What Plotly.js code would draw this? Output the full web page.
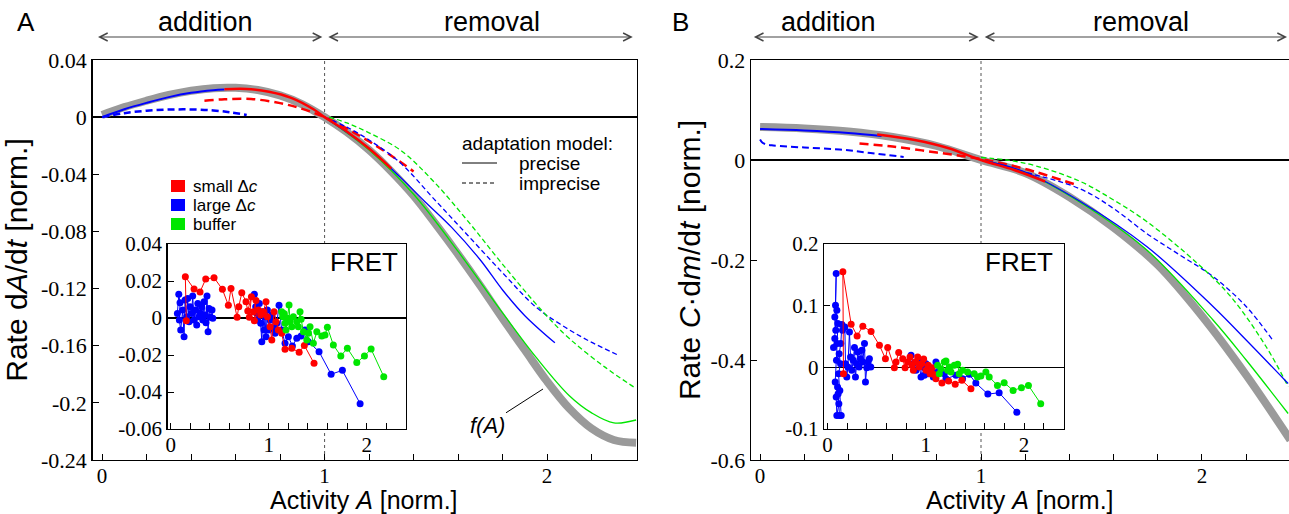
<!DOCTYPE html>
<html><head><meta charset="utf-8">
<script src="https://cdn.plot.ly/plotly-3.0.1.min.js"></script>
<style>html,body{margin:0;padding:0;background:#fff}#chart{width:1289px;height:514px}</style>
</head><body><div id="chart"></div>
<script>
// ================= DATA =================
// ---- Panel A (dA/dt vs activity A) ----
const aGrayX = [0, 0.1, 0.2, 0.3, 0.4, 0.5, 0.6, 0.7, 0.8, 0.9, 1.0, 1.1, 1.2, 1.3, 1.4, 1.5, 1.6, 1.7, 1.8, 1.9, 2.0, 2.1, 2.2, 2.3, 2.4];
const aGrayY = [0.0015, 0.007, 0.0115, 0.0155, 0.0185, 0.0203, 0.0205, 0.019, 0.0152, 0.009, 0.0, -0.0105, -0.023, -0.038, -0.055, -0.075, -0.096, -0.118, -0.141, -0.163, -0.185, -0.204, -0.218, -0.226, -0.228];
const aBlueSolid1X = [0, 0.1, 0.2, 0.3, 0.4, 0.5, 0.55];
const aBlueSolid1Y = [0.0, 0.0055, 0.010, 0.014, 0.017, 0.0188, 0.0193];
const aBlueSolid2X = [1.0, 1.2, 1.34, 1.45, 1.57, 1.7, 1.8, 1.9, 2.035];
const aBlueSolid2Y = [0, -0.022, -0.042, -0.059, -0.077, -0.100, -0.121, -0.139, -0.158];
const aRedSolidX = [0.55, 0.65, 0.75, 0.85, 0.95, 1.0, 1.1, 1.2, 1.3];
const aRedSolidY = [0.0195, 0.0197, 0.0178, 0.0135, 0.0055, 0.0, -0.010, -0.022, -0.036];
const aRedDashX = [0.46, 0.55, 0.67, 0.8, 0.9, 1.0, 1.1, 1.2, 1.3, 1.4];
const aRedDashY = [0.0115, 0.0125, 0.0127, 0.0098, 0.0058, 0.0, -0.008, -0.017, -0.027, -0.038];
const aBlueDash1X = [0, 0.1, 0.2, 0.3, 0.4, 0.5, 0.58, 0.65];
const aBlueDash1Y = [0.0, 0.0028, 0.0045, 0.0053, 0.0054, 0.0047, 0.0033, 0.0015];
const aBlueDash2X = [1.0, 1.1, 1.2, 1.34, 1.49, 1.645, 1.8, 1.95, 2.06, 2.18, 2.325];
const aBlueDash2Y = [0, -0.007, -0.016, -0.032, -0.057, -0.083, -0.109, -0.133, -0.145, -0.156, -0.167];
const aGreenSolidX = [1.0, 1.2, 1.4, 1.6, 1.8, 1.95, 2.1, 2.2, 2.3, 2.4];
const aGreenSolidY = [0, -0.023, -0.054, -0.094, -0.137, -0.168, -0.195, -0.207, -0.214, -0.212];
const aGreenDashX = [1.02, 1.1, 1.2, 1.34, 1.49, 1.645, 1.8, 1.98, 2.1, 2.26, 2.4];
const aGreenDashY = [0, -0.004, -0.011, -0.023, -0.045, -0.073, -0.103, -0.136, -0.155, -0.175, -0.19];

// ---- Panel B (C*dm/dt vs activity A) ----
const bGrayX = [0, 0.2, 0.4, 0.6, 0.8, 1.0, 1.2, 1.4, 1.6, 1.8, 2.0, 2.2, 2.4];
const bGrayY = [0.066, 0.063, 0.057, 0.046, 0.028, 0.0, -0.026, -0.074, -0.135, -0.210, -0.312, -0.43, -0.56];
const bBlueSolid1X = [0, 0.2, 0.4, 0.55];
const bBlueSolid1Y = [0.062, 0.059, 0.054, 0.048];
const bBlueSolid2X = [1.0, 1.2, 1.45, 1.75, 2.05, 2.2, 2.39];
const bBlueSolid2Y = [0, -0.024, -0.083, -0.173, -0.293, -0.36, -0.447];
const bRedSolidX = [0.53, 0.7, 0.85, 1.0, 1.15, 1.29];
const bRedSolidY = [0.051, 0.040, 0.024, 0.0, -0.02, -0.043];
const bRedDashX = [0.45, 0.6, 0.8, 1.0, 1.2, 1.42];
const bRedDashY = [0.033, 0.027, 0.015, 0.002, -0.018, -0.048];
const bBlueDash1X = [0, 0.01, 0.03, 0.06, 0.2, 0.36, 0.5, 0.65];
const bBlueDash1Y = [0.041, 0.035, 0.031, 0.029, 0.025, 0.021, 0.014, 0.006];
const bBlueDash2X = [1.0, 1.19, 1.45, 1.6, 1.75, 1.9, 2.05, 2.2, 2.32];
const bBlueDash2Y = [0, -0.023, -0.058, -0.097, -0.147, -0.19, -0.233, -0.293, -0.36];
const bGreenSolidX = [1.0, 1.2, 1.45, 1.75, 2.05, 2.2, 2.39];
const bGreenSolidY = [0, -0.025, -0.085, -0.18, -0.32, -0.4, -0.507];
const bGreenDashX = [1.0, 1.116, 1.25, 1.45, 1.6, 1.75, 1.98, 2.13, 2.29, 2.39];
const bGreenDashY = [0.005, 0.0, -0.012, -0.043, -0.08, -0.123, -0.207, -0.273, -0.373, -0.453];

// ---- Inset A (FRET, dA/dt) ----
const iaRedX = [0.159, 0.149, 0.238, 0.299, 0.357, 0.442, 0.527, 0.588, 0.615, 0.677, 0.694, 0.725, 0.768, 0.786, 0.823, 0.802, 0.843, 0.870, 0.853, 0.894, 0.918, 0.945, 0.972, 0.986, 1.013, 1.031, 1.054, 1.074, 1.098, 1.132, 1.166, 1.235, 1.310, 1.363, 1.462];
const iaRedY = [-0.0015, 0.0223, 0.0157, 0.0141, 0.0211, 0.0218, 0.0155, 0.0069, 0.0160, 0.0004, 0.0061, 0.0137, 0.0088, 0.0038, 0.0115, 0.0004, 0.0034, 0.0094, -0.0015, 0.0043, 0.0016, 0.0034, 0.0088, 0.0007, -0.0047, -0.0119, 0.0034, -0.002, -0.0065, -0.0083, -0.0169, -0.0164, -0.0185, -0.0148, -0.0245];
const iaBlue1X = [0.068, 0.082, 0.095, 0.088, 0.102, 0.122, 0.136, 0.146, 0.163, 0.173, 0.187, 0.197, 0.214, 0.224, 0.238, 0.251, 0.265, 0.276, 0.289, 0.299, 0.316, 0.327, 0.340, 0.350, 0.360, 0.370, 0.381, 0.391, 0.404, 0.421, 0.429];
const iaBlue1Y = [0.0025, 0.0128, 0.0083, -0.0011, -0.0065, 0.0043, -0.0101, 0.0097, 0.0007, 0.0106, -0.002, 0.0061, 0.0025, 0.0119, -0.0011, 0.0043, -0.0038, 0.0079, 0.0007, 0.0029, 0.0061, -0.0011, 0.0088, 0.0016, -0.0025, 0.0119, -0.0074, 0.0052, 0.0004, 0.0043, -0.0002];
const iaBlue2X = [0.853, 0.867, 0.878, 0.888, 0.904, 0.918, 0.929, 0.939, 0.952, 0.962, 0.972, 0.986, 1.0, 1.013, 1.031, 1.047, 1.064, 1.082, 1.105, 1.132, 1.166, 1.2, 1.241, 1.286, 1.33, 1.37, 1.404, 1.513, 1.636, 1.751, 1.932];
const iaBlue2Y = [0.0128, 0.0061, 0.0025, -0.0011, 0.0079, -0.0029, -0.0128, 0.0034, -0.0065, 0.0007, -0.0101, 0.0043, -0.0065, -0.0011, 0.0016, -0.0056, -0.0083, -0.0029, 0.0069, -0.0065, -0.0137, -0.0101, -0.0151, -0.011, -0.0097, -0.0065, -0.0128, -0.0182, -0.0304, -0.0283, -0.0463];
const iaGreenX = [1.132, 1.143, 1.156, 1.166, 1.176, 1.19, 1.207, 1.217, 1.235, 1.251, 1.286, 1.302, 1.319, 1.33, 1.354, 1.388, 1.404, 1.421, 1.455, 1.49, 1.541, 1.574, 1.598, 1.659, 1.735, 1.802, 1.898, 1.976, 2.044, 2.173];
const iaGreenY = [0.0034, 0.0007, 0.0025, -0.0029, -0.0065, -0.0002, 0.007, -0.002, -0.0047, 0.0007, -0.002, -0.0047, 0.0034, -0.0007, -0.0074, -0.0119, -0.0083, -0.0047, -0.0137, -0.0074, -0.0097, -0.0092, -0.005, -0.0146, -0.0205, -0.0164, -0.0241, -0.0205, -0.0168, -0.0317];

// ---- Inset B (FRET, C*dm/dt) ----
const ibRedX = [0.162, 0.156, 0.240, 0.301, 0.359, 0.443, 0.528, 0.589, 0.612, 0.680, 0.697, 0.724, 0.765, 0.789, 0.815, 0.839, 0.860, 0.873, 0.893, 0.917, 0.934, 0.957, 0.978, 1.002, 1.025, 1.043, 1.063, 1.076, 1.103, 1.164, 1.232, 1.299, 1.367, 1.459];
const ibRedY = [-0.0103, 0.155, 0.070, 0.051, 0.0667, 0.058, 0.0358, 0.0141, 0.032, -0.0005, 0.0087, 0.0239, 0.0141, -0.0005, 0.0087, 0.0168, 0.0033, -0.0049, 0.0087, 0.0168, 0.0005, 0.006, 0.0135, -0.0049, 0.0033, -0.0103, -0.0005, -0.0114, -0.0184, -0.0255, -0.0223, -0.0276, -0.0211, -0.0347];
const ibBlue1X = [0.061, 0.074, 0.088, 0.081, 0.095, 0.084, 0.074, 0.105, 0.098, 0.091, 0.078, 0.102, 0.088, 0.095, 0.115, 0.108, 0.122, 0.139, 0.125, 0.112, 0.132, 0.118, 0.135, 0.146, 0.152, 0.176, 0.183, 0.196, 0.207, 0.223, 0.234, 0.247, 0.261, 0.274, 0.284, 0.294, 0.308, 0.321, 0.335, 0.349, 0.359, 0.376, 0.386, 0.399, 0.413, 0.426, 0.44];
const ibBlue1Y = [0.032, 0.0467, 0.152, 0.1008, 0.0927, 0.060, 0.0818, 0.071, 0.0385, 0.0114, -0.0239, -0.032, -0.0483, -0.078, -0.059, -0.0428, -0.078, -0.078, -0.0374, -0.0103, 0.006, 0.0222, 0.0385, 0.0694, 0.060, 0.0656, 0.006, -0.0157, 0.0005, 0.0574, 0.0168, -0.0049, 0.0114, 0.032, -0.0157, 0.006, 0.0249, 0.0005, 0.0141, 0.0276, 0.0087, 0.0385, -0.0239, -0.0005, 0.0087, 0.0141, 0.0005];
const ibBlue2X = [0.85, 0.873, 0.9, 0.927, 0.951, 0.968, 0.985, 1.002, 1.025, 1.053, 1.076, 1.103, 1.12, 1.154, 1.188, 1.205, 1.307, 1.374, 1.442, 1.509, 1.631, 1.746, 1.926];
const ibBlue2Y = [0.0195, 0.006, -0.0049, 0.0114, -0.0157, 0.0005, -0.013, 0.006, -0.0103, -0.0022, -0.0157, 0.0087, -0.0076, -0.0049, -0.0103, -0.0184, -0.013, -0.0184, -0.0114, -0.0255, -0.0434, -0.0412, -0.0727];
const ibGreenX = [1.12, 1.137, 1.154, 1.188, 1.205, 1.222, 1.239, 1.256, 1.29, 1.324, 1.34, 1.374, 1.425, 1.492, 1.526, 1.56, 1.611, 1.645, 1.729, 1.797, 1.888, 1.973, 2.044, 2.169];
const ibGreenY = [0.0033, -0.0103, -0.0022, 0.0087, 0.0103, -0.0049, 0.0005, -0.0076, 0.0033, 0.0049, -0.0103, -0.0049, -0.0076, -0.0103, -0.0157, -0.0141, -0.0076, -0.0157, -0.0293, -0.0249, -0.0374, -0.033, -0.0293, -0.059];

// ---- tick labels ----
const xTickVals = [0, 1, 2];
const xTickText = ['0', '1', '2'];
const aYTickVals = [0.04, 0, -0.04, -0.08, -0.12, -0.16, -0.2, -0.24];
const aYTickText = ['0.04', '0', '-0.04', '-0.08', '-0.12', '-0.16', '-0.2', '-0.24'];
const bYTickVals = [0.2, 0, -0.2, -0.4, -0.6];
const bYTickText = ['0.2', '0', '-0.2', '-0.4', '-0.6'];
const iaYTickVals = [0.04, 0.02, 0, -0.02, -0.04, -0.06];
const iaYTickText = ['0.04', '0.02', '0', '-0.02', '-0.04', '-0.06'];
const ibYTickVals = [0.2, 0.1, 0, -0.1];
const ibYTickText = ['0.2', '0.1', '0', '-0.1'];

// ================= STYLE / LAYOUT =================
const W = 1289, H = 514;
const fx = p => p / W, fy = p => 1 - p / H;
const RED = '#ff0000', BLUE = '#0000ff', GREEN = '#00e600', GRAY = '#9a9a9a';
const SANS = "'Liberation Sans', Arial, sans-serif";
const SERIF = "'Liberation Serif', 'Times New Roman', serif";

function line(x, y, xa, ya, color, width, dash) {
  return {x: x, y: y, xaxis: xa, yaxis: ya, type: 'scatter', mode: 'lines', showlegend: false,
          hoverinfo: 'skip', line: {color: color, width: width, dash: dash || 'solid', shape: 'spline', smoothing: 1}};
}
function pts(x, y, xa, ya, color) {
  return {x: x, y: y, xaxis: xa, yaxis: ya, type: 'scatter', mode: 'lines+markers', showlegend: false,
          hoverinfo: 'skip', line: {color: color, width: 1}, marker: {color: color, size: 7}};
}

const traces = [
  // panel A
  line(aGrayX, aGrayY, 'x', 'y', GRAY, 8),
  line(aBlueDash1X, aBlueDash1Y, 'x', 'y', BLUE, 2.5, '7px,4px'),
  line(aRedDashX, aRedDashY, 'x', 'y', RED, 2.5, '9px,5px'),
  line(aBlueDash2X, aBlueDash2Y, 'x', 'y', BLUE, 1.3, '5px,3px'),
  line(aGreenDashX, aGreenDashY, 'x', 'y', GREEN, 1.3, '5px,3px'),
  line(aGreenSolidX, aGreenSolidY, 'x', 'y', GREEN, 1.3),
  line(aBlueSolid2X, aBlueSolid2Y, 'x', 'y', BLUE, 1.3),
  line(aBlueSolid1X, aBlueSolid1Y, 'x', 'y', BLUE, 2),
  line(aRedSolidX, aRedSolidY, 'x', 'y', RED, 2.5),
  // panel B
  line(bGrayX, bGrayY, 'x2', 'y2', GRAY, 8),
  line(bBlueDash1X, bBlueDash1Y, 'x2', 'y2', BLUE, 2, '7px,4px'),
  line(bRedDashX, bRedDashY, 'x2', 'y2', RED, 2.5, '9px,5px'),
  line(bBlueDash2X, bBlueDash2Y, 'x2', 'y2', BLUE, 1.3, '5px,3px'),
  line(bGreenDashX, bGreenDashY, 'x2', 'y2', GREEN, 1.3, '5px,3px'),
  line(bGreenSolidX, bGreenSolidY, 'x2', 'y2', GREEN, 1.3),
  line(bBlueSolid2X, bBlueSolid2Y, 'x2', 'y2', BLUE, 1.3),
  line(bBlueSolid1X, bBlueSolid1Y, 'x2', 'y2', BLUE, 2),
  line(bRedSolidX, bRedSolidY, 'x2', 'y2', RED, 2.5),
  // inset A
  pts(iaBlue1X, iaBlue1Y, 'x3', 'y3', BLUE),
  pts(iaBlue2X, iaBlue2Y, 'x3', 'y3', BLUE),
  pts(iaRedX, iaRedY, 'x3', 'y3', RED),
  pts(iaGreenX, iaGreenY, 'x3', 'y3', GREEN),
  // inset B
  pts(ibBlue1X, ibBlue1Y, 'x4', 'y4', BLUE),
  pts(ibBlue2X, ibBlue2Y, 'x4', 'y4', BLUE),
  pts(ibRedX, ibRedY, 'x4', 'y4', RED),
  pts(ibGreenX, ibGreenY, 'x4', 'y4', GREEN)
];

function xAx(domain, range, mirror, anchor, fs) {
  return {domain: domain, range: range, anchor: anchor, showgrid: false, zeroline: false,
    showline: true, linecolor: 'black', linewidth: 1.3, mirror: mirror,
    tickmode: 'array', tickvals: xTickVals, ticktext: xTickText, ticks: 'inside', ticklen: 6, tickcolor: 'black',
    ticklabelstandoff: -4,
    minor: {tickmode: 'linear', tick0: 0, dtick: 0.2, ticks: 'inside', ticklen: 6, tickcolor: 'black'},
    tickfont: {family: SERIF, size: fs, color: 'black'}, fixedrange: true};
}
function yAx(domain, range, vals, text, mirror, title, anchor, fs, zw, standoff) {
  const a = {domain: domain, range: range, anchor: anchor, showgrid: false,
    zeroline: true, zerolinecolor: 'black', zerolinewidth: zw,
    showline: true, linecolor: 'black', linewidth: 1.3, mirror: mirror,
    tickmode: 'array', tickvals: vals, ticktext: text, ticks: 'inside', ticklen: 6, tickcolor: 'black',
    tickfont: {family: SERIF, size: fs, color: 'black'}, fixedrange: true};
  if (title) a.title = {text: title, font: {family: SANS, size: 30, color: 'black'}, standoff: standoff};
  return a;
}

const mainYDom = [fy(460), fy(60)];
const insetYDom = [fy(429), fy(244)];

const layout = {
  width: W, height: H, margin: {l: 0, r: 0, t: 0, b: 0},
  paper_bgcolor: 'white', plot_bgcolor: 'white', showlegend: false,
  xaxis: xAx([fx(92.5), fx(637)], [-0.043, 2.404], true, 'y', 21),
  yaxis: yAx(mainYDom, [-0.24, 0.04], aYTickVals, aYTickText, true, 'Rate d<i>A</i>/d<i>t</i> [norm.]', 'x', 22, 2, 4),
  xaxis2: xAx([fx(751), 1], [-0.041, 2.394], true, 'y2', 21),
  yaxis2: yAx(mainYDom, [-0.6, 0.2], bYTickVals, bYTickText, false, 'Rate <i>C</i>·d<i>m</i>/d<i>t</i> [norm.]', 'x2', 22, 2, 1),
  xaxis3: xAx([fx(167.5), fx(406)], [-0.033, 2.40], true, 'y3', 21),
  yaxis3: yAx(insetYDom, [-0.06, 0.04], iaYTickVals, iaYTickText, true, null, 'x3', 21, 2.5, 0),
  xaxis4: xAx([fx(824), fx(1064)], [-0.036, 2.406], true, 'y4', 21),
  yaxis4: yAx(insetYDom, [-0.1, 0.2], ibYTickVals, ibYTickText, true, null, 'x4', 21, 1.5, 0),
  shapes: [
    // dotted boundary at A = 1
    {type: 'line', xref: 'x', yref: 'y', x0: 1, x1: 1, y0: -0.24, y1: 0.04, layer: 'below', line: {color: '#555', width: 1, dash: 'dot'}},
    {type: 'line', xref: 'x2', yref: 'y2', x0: 1, x1: 1, y0: -0.6, y1: 0.2, layer: 'below', line: {color: '#555', width: 1, dash: 'dot'}},
    // colour key (panel A)
    {type: 'rect', xref: 'paper', yref: 'paper', x0: fx(171), x1: fx(185), y0: fy(192), y1: fy(180), fillcolor: RED, line: {width: 0}},
    {type: 'rect', xref: 'paper', yref: 'paper', x0: fx(171), x1: fx(185), y0: fy(211), y1: fy(199), fillcolor: BLUE, line: {width: 0}},
    {type: 'rect', xref: 'paper', yref: 'paper', x0: fx(171), x1: fx(185), y0: fy(230), y1: fy(218), fillcolor: GREEN, line: {width: 0}},
    // line-style key
    {type: 'line', xref: 'paper', yref: 'paper', x0: fx(462), x1: fx(497), y0: fy(163), y1: fy(163), line: {color: 'black', width: 1}},
    {type: 'line', xref: 'paper', yref: 'paper', x0: fx(462), x1: fx(497), y0: fy(183), y1: fy(183), line: {color: 'black', width: 1, dash: '4px,3px'}}
  ],
  annotations: []
};

const ann = layout.annotations;
function txt(x, y, text, size, xanchor, extra) {
  ann.push(Object.assign({xref: 'paper', yref: 'paper', x: fx(x), y: fy(y), text: text, showarrow: false,
    xanchor: xanchor || 'center', yanchor: 'middle', font: {family: SANS, size: size, color: 'black'}}, extra || {}));
}
function dblArrow(xref, x0, x1, yPix) {
  ann.push({xref: xref, yref: 'paper', x: x1, y: fy(yPix), axref: xref, ax: x0, ayref: 'pixel', ay: 0,
    text: '', showarrow: true, arrowhead: 5, startarrowhead: 5, arrowside: 'end+start',
    arrowsize: 1.3, startarrowsize: 1.3, arrowwidth: 1.2, arrowcolor: '#444', standoff: 0, startstandoff: 0});
}
txt(26, 22, 'A', 26);
txt(680, 22, 'B', 26);
txt(205, 22, 'addition', 27);
txt(492, 22, 'removal', 27);
txt(828, 22, 'addition', 27);
txt(1141, 22, 'removal', 27);
dblArrow('x', -0.025, 0.99, 37);
dblArrow('x', 1.01, 2.385, 37);
dblArrow('x2', -0.035, 0.99, 37);
dblArrow('x2', 1.01, 2.385, 37);
// x-axis titles
txt(364, 500, 'Activity <i>A</i> [norm.]', 25);
txt(1020, 500, 'Activity <i>A</i> [norm.]', 25);
txt(191, 186, 'small Δ<i>c</i>', 17, 'left');
txt(191, 205, 'large Δ<i>c</i>', 17, 'left');
txt(191, 224, 'buffer', 17, 'left');
txt(460, 143, 'adaptation model:', 19, 'left');
txt(517, 163, 'precise', 19, 'left');
txt(517, 183, 'imprecise', 19, 'left');
txt(400, 262, 'FRET', 26, 'right');
txt(1055, 262, 'FRET', 26, 'right');
// f(A) label with pointer
ann.push({xref: 'paper', yref: 'paper', x: fx(543), y: fy(389), ax: -56, ay: 36, text: '<i>f(A)</i>',
  showarrow: true, arrowhead: 0, arrowwidth: 1, arrowcolor: 'black', standoff: 0,
  font: {family: SANS, size: 22, color: 'black'}});

Plotly.newPlot('chart', traces, layout, {staticPlot: true, displayModeBar: false});
</script>
</body></html>
